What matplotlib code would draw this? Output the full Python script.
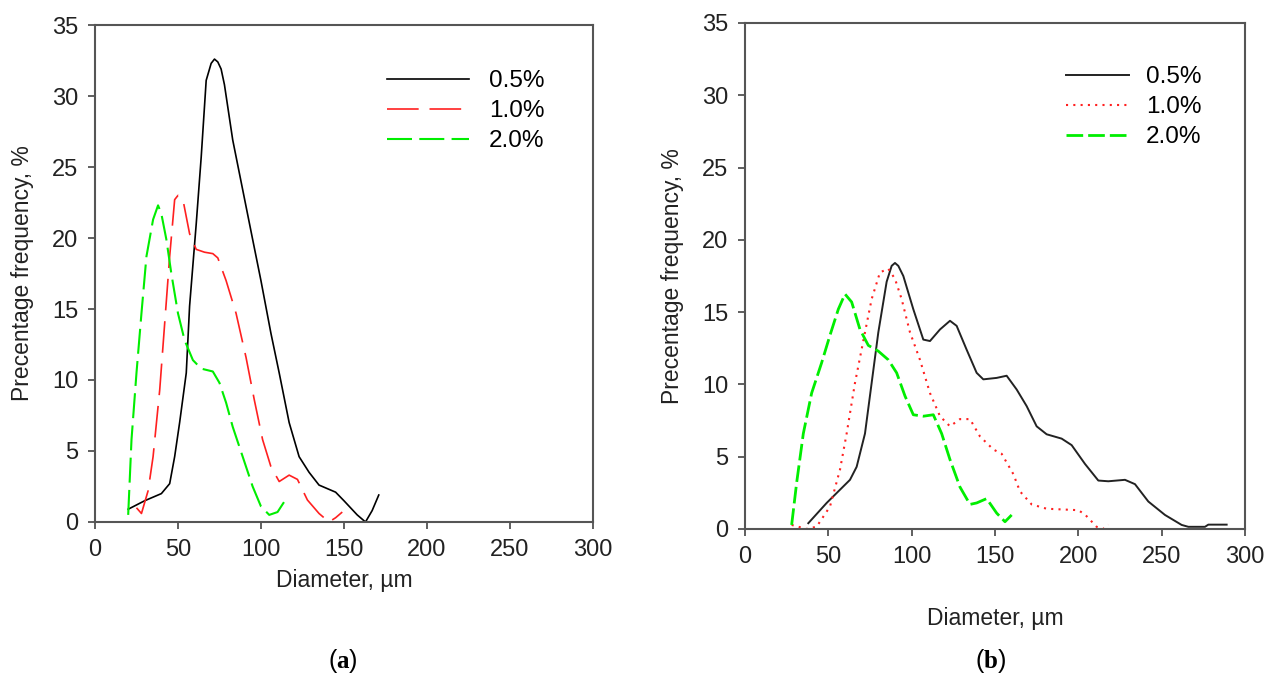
import matplotlib
matplotlib.use("Agg")
import matplotlib.pyplot as plt

plt.rcParams['font.family'] = ['Liberation Sans', 'DejaVu Sans']
plt.rcParams['mathtext.fontset'] = 'custom'
plt.rcParams['mathtext.rm'] = 'Liberation Serif'
plt.rcParams['mathtext.bf'] = 'Liberation Serif:bold'

# Panel (a) data: diameter (um) vs percentage frequency (%)
a_x_05 = [20, 30, 40, 45, 48, 51, 55, 57, 61, 64, 67, 70, 72, 74, 76, 78, 83, 89, 95, 100, 106,
          111, 117, 123, 129, 135, 145, 150, 158, 163, 167, 171]
a_y_05 = [0.9, 1.5, 2.0, 2.7, 4.6, 7.0, 10.5, 15.2, 21.0, 25.7, 31.1, 32.3, 32.6, 32.4, 31.9,
          30.8, 26.9, 23.4, 19.9, 17.0, 13.3, 10.5, 7.0, 4.6, 3.5, 2.6, 2.1, 1.5, 0.5, 0.0, 0.8, 1.9]
a_x_10 = [25, 28, 32, 35, 39, 42, 45, 48, 50, 53, 57, 61, 66, 71, 74, 79, 85, 91, 96, 101,
          106, 111, 117, 122, 128, 135, 141, 145, 149]
a_y_10 = [1.0, 0.6, 2.2, 4.6, 9.3, 14.0, 18.7, 22.7, 23.0, 22.7, 20.3, 19.2, 19.0, 18.9, 18.6,
          17.0, 14.7, 11.6, 8.6, 5.8, 3.9, 2.85, 3.3, 3.0, 1.55, 0.6, 0.0, 0.3, 0.7]
a_x_20 = [20, 22, 25, 28, 31, 35, 38, 40, 43, 46, 50, 54, 59, 64, 71, 75, 79, 83, 89, 95,
          100, 105, 110, 115]
a_y_20 = [0.5, 5.8, 10.5, 14.7, 18.7, 21.3, 22.3, 21.7, 19.9, 17.5, 14.7, 12.8, 11.4, 10.8,
          10.6, 9.8, 8.4, 6.7, 4.6, 2.5, 1.1, 0.5, 0.7, 1.6]

# Panel (b) data
b_x_05 = [38, 49, 63, 67, 72, 76, 80, 85, 88, 90, 92, 95, 101, 107, 111, 117, 123, 127, 133, 139,
          143, 151, 157, 163, 169, 175, 181, 190, 196, 204, 212, 218, 228, 234, 242, 252, 262,
          266, 276, 278, 289]
b_y_05 = [0.4, 1.8, 3.4, 4.3, 6.6, 10.1, 13.6, 17.1, 18.2, 18.4, 18.2, 17.5, 15.2, 13.1, 13.0,
          13.8, 14.4, 14.05, 12.4, 10.8, 10.35, 10.45, 10.6, 9.65, 8.5, 7.1, 6.55, 6.25, 5.8, 4.5,
          3.35, 3.3, 3.4, 3.1, 1.9, 0.97, 0.28, 0.15, 0.15, 0.3, 0.3]
b_x_10 = [28, 37, 43, 51, 57, 61, 66, 72, 76, 81, 86, 90, 94, 99, 105, 111, 117, 123, 129, 135,
          141, 149, 154, 161, 165, 172, 181, 200, 204, 211, 215, 218]
b_y_10 = [0.28, 0.0, 0.16, 1.55, 4.1, 6.6, 10.1, 13.6, 15.9, 17.75, 18.0, 17.3, 15.9, 13.6, 11.7,
          9.4, 7.8, 7.1, 7.6, 7.6, 6.4, 5.5, 5.2, 3.8, 2.6, 1.7, 1.4, 1.3, 1.0, 0.15, 0.0, 0.3]
b_x_20 = [28, 31, 35, 40, 46, 51, 56, 60, 64, 69, 74, 80, 86, 91, 96, 101, 107, 113, 118, 123,
          129, 135, 139, 145, 151, 156, 160]
b_y_20 = [0.28, 3.2, 6.6, 9.4, 11.5, 13.4, 15.2, 16.25, 15.7, 13.8, 12.7, 12.3, 11.7, 10.8, 9.2,
          7.9, 7.8, 7.9, 6.6, 4.8, 2.9, 1.7, 1.8, 2.1, 1.1, 0.5, 0.97]

labels = ["0.5%", "1.0%", "2.0%"]
x_ticks = [0, 50, 100, 150, 200, 250, 300]
y_ticks = [0, 5, 10, 15, 20, 25, 30, 35]

fig = plt.figure(figsize=(12.7, 6.78), dpi=100)
ax_a = fig.add_axes([0.0748, 0.2301, 0.392, 0.733])
ax_b = fig.add_axes([0.5866, 0.2198, 0.3937, 0.7463])

# Panel (a)
ax_a.plot(a_x_05, a_y_05, color='black', lw=1.2, label=labels[0])
ax_a.plot(a_x_10, a_y_10, color='#ff2020', lw=1.2, dashes=(19, 6.5), label=labels[1])
ax_a.plot(a_x_20, a_y_20, color='#00ee00', lw=1.5, dashes=(12, 3.5), label=labels[2])

# Panel (b)
ax_b.plot(b_x_05, b_y_05, color='#222222', lw=1.4, label=labels[0])
ax_b.plot(b_x_10, b_y_10, color='#ff2020', lw=1.5, dashes=(1, 2.5), label=labels[1])
ax_b.plot(b_x_20, b_y_20, color='#00ee00', lw=2.0, dashes=(6, 1.8), label=labels[2])

for ax in (ax_a, ax_b):
    ax.set_xlim(0, 300)
    ax.set_ylim(0, 35)
    ax.set_xticks(x_ticks)
    ax.set_yticks(y_ticks)
    ax.tick_params(direction='out', length=5, width=1.2, labelsize=17, pad=7,
                   labelcolor='#222222', color='#444444', top=False, right=False)
    for side in ax.spines:
        ax.spines[side].set_color('#555555')
        ax.spines[side].set_linewidth(1.5)
    ax.set_ylabel("Precentage frequency, %", fontsize=16.5, color='#222222', labelpad=13)

ax_a.set_xlabel("Diameter, µm", fontsize=16.5, color='#222222', labelpad=6)
ax_b.set_xlabel("Diameter, µm", fontsize=16.5, color='#222222', labelpad=28)

ax_a.legend(loc='upper left', bbox_to_anchor=(0.586, 0.909), borderaxespad=0, borderpad=0,
            frameon=False, fontsize=17.5, handlelength=3.4, handletextpad=0.8,
            labelspacing=0.33)
ax_b.legend(loc='upper left', bbox_to_anchor=(0.642, 0.915), borderaxespad=0, borderpad=0,
            frameon=False, fontsize=17.5, handlelength=2.6, handletextpad=0.7,
            labelspacing=0.33)

fig.text(0.27, 0.015, r"($\mathbf{a}$)", fontsize=18, ha='center', color='black')
fig.text(0.78, 0.015, r"($\mathbf{b}$)", fontsize=18, ha='center', color='black')

fig.savefig("out.png", dpi=100)
